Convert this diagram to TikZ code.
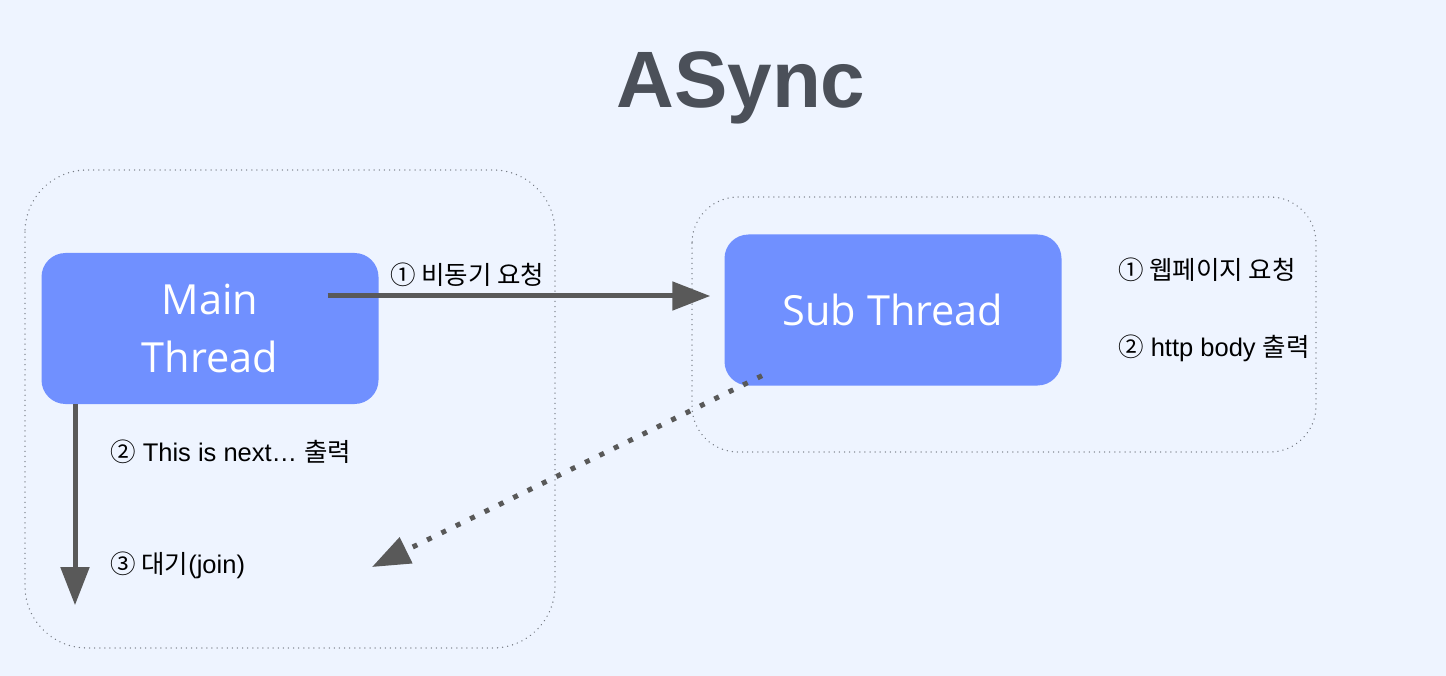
\documentclass[tikz,border=0pt]{standalone}
\usepackage{fontspec}
\usepackage{xcolor}
\usepackage{tikz}
\setmainfont{Liberation Sans}
\newfontfamily\cjk{Noto Sans CJK KR}
\newfontfamily\boxfont{Open Sans}
\usetikzlibrary{arrows.meta}
\definecolor{bgblue}{HTML}{EEF4FF}
\definecolor{threadblue}{HTML}{7090FF}
\definecolor{titlegray}{HTML}{4B5059}
\definecolor{arrowgray}{HTML}{595959}
\definecolor{framegray}{HTML}{767B84}

\begin{document}
\begin{tikzpicture}[x=1pt,y=-1pt,
    thread/.style={fill=threadblue, rounded corners=24pt, text=white, align=center,
        font=\boxfont\fontsize{41.5}{58}\selectfont, minimum width=337pt, minimum height=151pt},
    frame/.style={draw=framegray, line width=1.4pt, dash pattern=on 0.1pt off 5pt, line cap=round},
    note/.style={anchor=west, inner sep=0pt, font=\fontsize{25.5}{25.5}\selectfont},
    flow/.style={draw=arrowgray, line width=5pt, -{Triangle[length=38pt,width=28pt]}}]
        % Define background and title
        \fill[bgblue] (0,0) rectangle (1446,676);
        \node[text=titlegray, font=\bfseries\fontsize{80}{80}\selectfont] (title) at (741,88) {ASync};
        
        % Define dotted frames
        \draw[frame, rounded corners=62pt] (25,170) rectangle (555,648);
        \draw[frame, rounded corners=46pt] (692,197) rectangle (1316,452);
        
        % Define threads as rounded boxes
        \node[thread] (main) at (210,328.5) {Main\\Thread};
        \node[thread] (sub) at (893,310) {Sub Thread};
        
        % Define notes
        \node[note] (req) at (390,275) {{\cjk ① 비동기 요청}};
        \node[note] (next) at (110,452) {{\cjk ②} This is next… {\cjk 출력}};
        \node[note] (wait) at (110,565) {{\cjk ③ 대기}(join)};
        \node[note] (page) at (1118,270) {{\cjk ① 웹페이지 요청}};
        \node[note] (body) at (1118,348) {{\cjk ②} http body {\cjk 출력}};
        
        % Define edges
        \draw[flow] ([shift={(-51,-32.5)}]main.east) -- ([shift={(-14,-14)}]sub.west);
        \draw[flow] ([shift={(-135,0)}]main.south) -- ([shift={(-135,201)}]main.south);
        \draw[flow, dash pattern=on 5pt off 11pt] ([shift={(-131,-10)}]sub.south) -- ([shift={(262,2)}]wait.west);
    \end{tikzpicture}
\end{document}
